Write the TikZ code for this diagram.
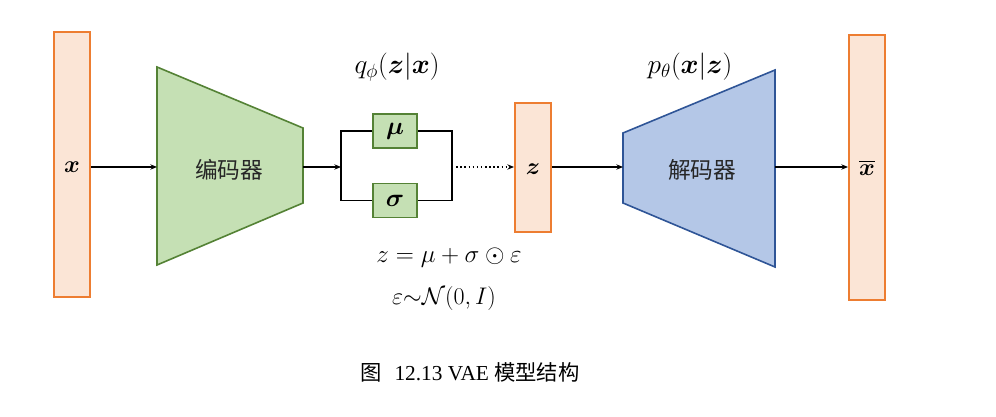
\RequirePackage{fix-cm}
\documentclass[tikz,border=0pt]{standalone}
\usepackage{amsmath,bm}
\usepackage{fontspec}
\setmainfont{Liberation Serif}
\newfontfamily\cjk{Noto Sans CJK SC}
\usetikzlibrary{arrows.meta}
\definecolor{orBorder}{HTML}{ED7D31}
\definecolor{orFill}{HTML}{FBE5D6}
\definecolor{grFill}{HTML}{C5E0B4}
\definecolor{grBorder}{HTML}{548235}
\definecolor{blFill}{HTML}{B4C7E7}
\definecolor{blBorder}{HTML}{2F5597}
\tikzset{
  vecbox/.style={draw=orBorder, fill=orFill, line width=1.5pt, minimum width=27pt, inner sep=0pt},
  parbox/.style={draw=grBorder, fill=grFill, line width=1.2pt, minimum width=33pt, minimum height=25.5pt, inner sep=0pt},
  link/.style={line width=1.1pt, black},
  arr/.style={link, -{Stealth[length=5pt,width=4pt]}},
  lbl/.style={font=\fontsize{17}{20}\selectfont, inner sep=0pt},
  cjklbl/.style={font=\fontsize{17}{20}\selectfont\cjk, inner sep=0pt, text=black!85},
}
\begin{document}
\begin{tikzpicture}[x=0.75pt,y=-0.75pt]
\useasboundingbox (0,0) rectangle (996,417);
% input / latent / output vectors
\node[vecbox, minimum height=198.75pt] (x) at (72,164.5) {};
\node[lbl] (xl) at (72,167) {\fontsize{18}{20}\selectfont$\boldsymbol{x}$};
\node[vecbox, minimum height=96.75pt] (z) at (533,167.5) {};
\node[lbl] (zl) at (533,169) {\fontsize{18}{20}\selectfont$\boldsymbol{z}$};
\node[vecbox, minimum height=198.75pt] (xb) at (867,167.5) {};
\node[lbl] (xbl) at (867,168) {\fontsize{18}{20}\selectfont$\overline{\boldsymbol{x}}$};
% encoder
\draw[draw=grBorder, fill=grFill, line width=1.2pt] (157,67) -- (303,128) -- (303,203) -- (157,265) -- cycle;
\coordinate (encIn) at (157,167);
\coordinate (encOut) at (303,167);
\node[cjklbl] (enc) at (229,170) {编码器};
% decoder
\draw[draw=blBorder, fill=blFill, line width=1.2pt] (623,133) -- (775,70) -- (775,267) -- (623,203) -- cycle;
\coordinate (decIn) at (623,167);
\coordinate (decOut) at (775,167);
\node[cjklbl] (dec) at (702,170) {解码器};
% mu / sigma
\node[parbox] (mu) at (395,131) {\fontsize{19}{20}\selectfont$\boldsymbol{\mu}$};
\node[parbox] (sg) at (395,200.5) {\fontsize{19}{20}\selectfont$\boldsymbol{\sigma}$};
\coordinate (bL) at (341,167);
\coordinate (bR) at (452,167);
% connectors
\draw[arr] (x.east |- encIn) -- (encIn);
\draw[arr] (encOut) -- (bL);
\draw[link] (mu.west) -| (bL) |- (sg.west);
\draw[link] (mu.east) -| (bR) |- (sg.east);
\draw[link, dotted, -{Stealth[length=5pt,width=4pt]}] (bR) -- (z.west |- bR);
\draw[arr] (z.east |- decIn) -- (decIn);
\draw[arr] (decOut) -- (xb.west |- decOut);
% labels
\node[lbl, font=\fontsize{20.5}{22}\selectfont] (q) at (397,67) {$q_{\phi}(\boldsymbol{z}|\boldsymbol{x})$};
\node[lbl, font=\fontsize{20.5}{22}\selectfont] (p) at (690,67) {$p_{\theta}(\boldsymbol{x}|\boldsymbol{z})$};
\node[lbl, font=\fontsize{18.8}{22}\selectfont] (f1) at (449,258) {$z=\mu+\sigma\odot\varepsilon$};
\node[lbl, font=\fontsize{18}{21}\selectfont] (f2) at (444,298) {$\varepsilon{\sim}\mathcal{N}(0,I)$};
\node[font=\fontsize{16}{19}\selectfont, inner sep=0pt] (cap) at (470,372) {{\cjk 图}\hspace{0.6em}12.13 VAE {\cjk 模型结构}};
\end{tikzpicture}
\end{document}
